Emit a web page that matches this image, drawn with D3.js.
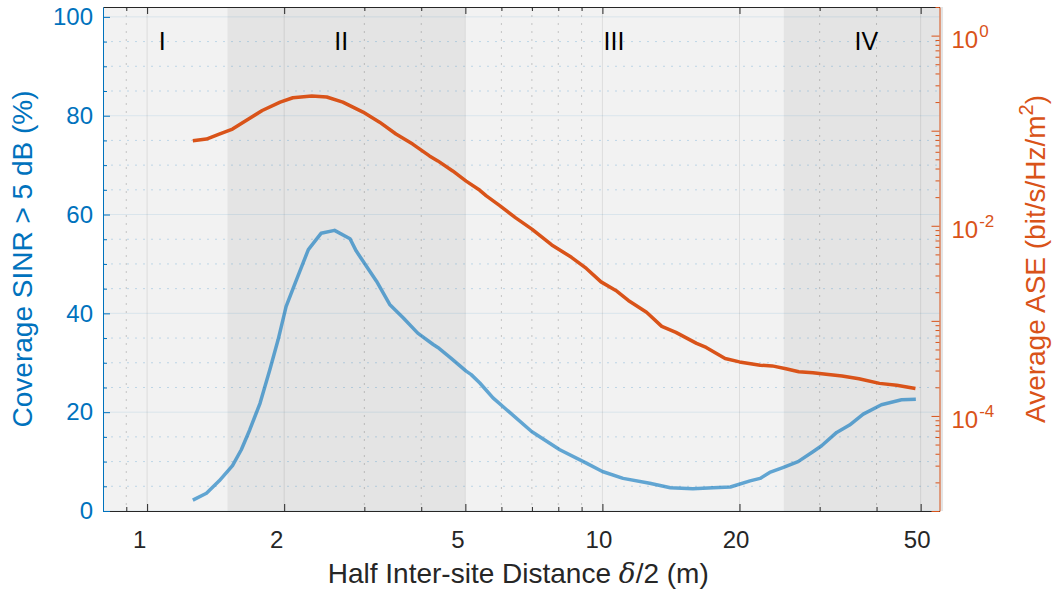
<!DOCTYPE html>
<html lang="en"><head><meta charset="utf-8">
<title>Coverage and ASE</title>
<script src="https://cdn.jsdelivr.net/npm/d3@7"></script>
<style>
body { margin: 0; background: #fff; }
text { font-family: "Liberation Sans", Arial, Helvetica, sans-serif; }
</style>
</head>
<body>
<script>
// data
var covDist = [1.26, 1.35, 1.44, 1.54, 1.61, 1.68, 1.77, 1.86, 1.94, 2.02, 2.13, 2.26, 2.41, 2.58, 2.79, 2.88,
               3.19, 3.41, 3.65, 3.93, 4.25, 4.35, 4.64, 5.02, 5.15, 5.38, 5.75, 6.16, 6.99, 8.06, 9.22, 10.0,
               11.1, 12.7, 14.1, 15.8, 17.5, 19.1, 21.1, 22.2, 23.3, 24.9, 26.9, 29.0, 30.3, 32.7, 34.9, 37.4,
               41.0, 45.4, 48.8];
var coverage = [2.2, 3.6, 6.1, 9.2, 12.4, 16.4, 21.8, 28.6, 34.7, 41.4, 46.9, 52.9, 56.2, 56.8, 55.1, 52.6,
                46.5, 41.8, 39.1, 36.0, 33.7, 33.1, 31.0, 28.3, 27.6, 25.9, 22.9, 20.5, 16.1, 12.4, 9.7, 8.0,
                6.6, 5.6, 4.7, 4.5, 4.7, 4.85, 6.1, 6.6, 7.8, 8.8, 10.0, 12.0, 13.2, 15.9, 17.4, 19.6,
                21.5, 22.5, 22.6];

var aseDist = [1.26, 1.35, 1.44, 1.54, 1.65, 1.79, 1.96, 2.09, 2.30, 2.48, 2.69, 2.98, 3.24, 3.52, 3.83, 4.17,
               4.35, 4.69, 5.02, 5.38, 5.56, 5.95, 6.45, 7.0, 7.74, 8.55, 9.22, 9.93, 10.7, 11.4, 12.5, 13.5,
               14.5, 16.1, 16.9, 18.6, 20.0, 22.2, 23.6, 25.3, 27.0, 29.0, 31.0, 33.6, 36.6, 40.6, 44.3, 48.7];
var ase = [0.0784, 0.0817, 0.0923, 0.104, 0.128, 0.163, 0.200, 0.222, 0.232, 0.226, 0.200, 0.157, 0.123, 0.0923, 0.0723, 0.0543,
           0.0481, 0.0377, 0.0295, 0.0236, 0.0206, 0.0163, 0.0121, 0.00923, 0.00629, 0.00466, 0.00356, 0.00257, 0.00209, 0.00164, 0.00123, 0.000875,
           0.000757, 0.000579, 0.000525, 0.000402, 0.00037, 0.000341, 0.000336, 0.000314, 0.000292, 0.000285, 0.000274, 0.000263, 0.000246, 0.00022, 0.00021, 0.000194];

var regionEdges = [0.8, 1.5, 5, 25, 56];
var regionNames = ["I", "II", "III", "IV"];
var regionLabelX = [1.08, 2.67, 10.6, 38];
var regionShade = ["#f2f2f2", "#e4e4e4", "#f2f2f2", "#e4e4e4"];

var xTicks = [1, 2, 5, 10, 20, 50];
var xMinor = [0.9, 3, 4, 6, 7, 8, 9, 30, 40];
var leftTicks = [0, 20, 40, 60, 80, 100];
var rightDecades = [1e-5, 1e-4, 1e-3, 1e-2, 1e-1, 1];
var rightLabelled = [[1e-4, "-4"], [1e-2, "-2"], [1, "0"]];

var width = 1053, height = 594;
var pL = 103, pR = 939.5, pT = 7, pB = 511;
var blue = "#0072BD", orange = "#D95319", axisGray = "#262626";

var x = d3.scaleLog().domain([0.8, 55]).range([pL, pR]);
var yL = d3.scaleLinear().domain([0, 102]).range([pB, pT]);
var yR = d3.scaleLog().domain([1e-5, 2]).range([pB, pT]);

var svg = d3.select("body").append("svg")
  .attr("width", width)
  .attr("height", height);

svg.append("defs").append("clipPath").attr("id", "plotclip")
  .append("rect").attr("x", pL).attr("y", pT)
  .attr("width", pR - pL).attr("height", pB - pT);

// shaded regions
svg.selectAll(".region")
  .data(regionNames)
  .enter().append("rect")
  .attr("class", "region")
  .attr("x", function(d, i) { return x(regionEdges[i]); })
  .attr("width", function(d, i) { return x(regionEdges[i + 1]) - x(regionEdges[i]); })
  .attr("y", pT)
  .attr("height", pB - pT)
  .attr("fill", function(d, i) { return regionShade[i]; });

// grid
var grid = svg.append("g");
var yMinor = d3.range(5, 101, 5).filter(function(v) { return v % 20 != 0; });
grid.selectAll(".hminor").data(yMinor).enter().append("line")
  .attr("x1", pL).attr("x2", pR)
  .attr("y1", function(d) { return yL(d); }).attr("y2", function(d) { return yL(d); })
  .attr("stroke", "rgba(0,114,189,0.22)").attr("stroke-dasharray", "2,6");
grid.selectAll(".hmajor").data(leftTicks).enter().append("line")
  .attr("x1", pL).attr("x2", pR)
  .attr("y1", function(d) { return yL(d); }).attr("y2", function(d) { return yL(d); })
  .attr("stroke", "rgba(0,114,189,0.1)");
grid.selectAll(".vminor").data(xMinor).enter().append("line")
  .attr("x1", function(d) { return x(d); }).attr("x2", function(d) { return x(d); })
  .attr("y1", pT).attr("y2", pB)
  .attr("stroke", "rgba(38,38,38,0.22)").attr("stroke-dasharray", "2,6");
grid.selectAll(".vmajor").data(xTicks).enter().append("line")
  .attr("x1", function(d) { return x(d); }).attr("x2", function(d) { return x(d); })
  .attr("y1", pT).attr("y2", pB)
  .attr("stroke", "rgba(38,38,38,0.1)");

// region labels
svg.selectAll(".rlabel")
  .data(regionNames)
  .enter().append("text")
  .attr("x", function(d, i) { return x(regionLabelX[i]); })
  .attr("y", yL(93.2))
  .attr("text-anchor", "middle")
  .attr("font-size", 25)
  .attr("fill", "#000")
  .text(function(d) { return d; });

// curves
var plot = svg.append("g").attr("clip-path", "url(#plotclip)");

var covLine = d3.line()
  .x(function(d, i) { return x(covDist[i]); })
  .y(function(d) { return yL(d); });
plot.append("path")
  .datum(coverage)
  .attr("d", covLine)
  .attr("fill", "none")
  .attr("stroke", blue)
  .attr("stroke-opacity", 0.6)
  .attr("stroke-width", 3.5)
  .attr("stroke-linejoin", "round");

var aseLine = d3.line()
  .x(function(d, i) { return x(aseDist[i]); })
  .y(function(d) { return yR(d); });
plot.append("path")
  .datum(ase)
  .attr("d", aseLine)
  .attr("fill", "none")
  .attr("stroke", orange)
  .attr("stroke-width", 3.5)
  .attr("stroke-linejoin", "round");

// x axes (bottom and top)
var xAxis = svg.append("g")
  .attr("transform", "translate(0," + pB + ")")
  .attr("color", axisGray)
  .call(d3.axisBottom(x).tickValues(xTicks).tickSize(-7).tickSizeOuter(0).tickPadding(20)
        .tickFormat(d3.format("d")));
xAxis.selectAll("text")
  .attr("font-size", 24)
  .attr("font-family", "Liberation Sans, Arial, sans-serif")
  .attr("fill", "#262626")
  .attr("dx", function(d) { return d < 10 ? -8 : -4; });
svg.append("g")
  .attr("transform", "translate(0," + pB + ")")
  .attr("color", axisGray)
  .call(d3.axisBottom(x).tickValues(xMinor).tickSize(-4).tickSizeOuter(0).tickFormat(""))
  .select(".domain").remove();
svg.append("g")
  .attr("transform", "translate(0," + pT + ")")
  .attr("color", axisGray)
  .call(d3.axisTop(x).tickValues(xTicks).tickSize(-7).tickSizeOuter(0).tickFormat(""));
svg.append("g")
  .attr("transform", "translate(0," + pT + ")")
  .attr("color", axisGray)
  .call(d3.axisTop(x).tickValues(xMinor).tickSize(-4).tickSizeOuter(0).tickFormat(""))
  .select(".domain").remove();

// left axis
var lAxis = svg.append("g")
  .attr("transform", "translate(" + pL + ",0)")
  .attr("color", blue)
  .call(d3.axisLeft(yL).tickValues(leftTicks).tickSize(-7).tickSizeOuter(0).tickPadding(10));
lAxis.selectAll("text").attr("font-size", 24).attr("font-family", "Liberation Sans, Arial, sans-serif");
svg.append("g")
  .attr("transform", "translate(" + pL + ",0)")
  .attr("color", blue)
  .call(d3.axisLeft(yL).tickValues(yMinor).tickSize(-4).tickSizeOuter(0).tickFormat(""))
  .select(".domain").remove();

// right axis
var rMinor = [];
rightDecades.forEach(function(dec) {
  for (var k = 2; k <= 9; k++) { if (dec * k <= 2) rMinor.push(dec * k); }
});
svg.append("g")
  .attr("transform", "translate(" + pR + ",0)")
  .attr("color", orange)
  .call(d3.axisRight(yR).tickValues(rightDecades).tickSize(-8).tickSizeOuter(0).tickFormat(""));
svg.append("g")
  .attr("transform", "translate(" + pR + ",0)")
  .attr("color", orange)
  .call(d3.axisRight(yR).tickValues(rMinor).tickSize(-4).tickSizeOuter(0).tickFormat(""))
  .select(".domain").remove();

var rLab = svg.selectAll(".rtick")
  .data(rightLabelled)
  .enter().append("text")
  .attr("x", pR + 12)
  .attr("y", function(d) { return yR(d[0]) + 12.5; })
  .attr("fill", orange)
  .attr("font-size", 24);
rLab.append("tspan").text("10");
rLab.append("tspan").attr("font-size", 17).attr("dy", -11).attr("dx", 1).text(function(d) { return d[1]; });

// axis labels
svg.append("text")
  .attr("transform", "translate(" + ((pL + pR) / 2 - 3) + ",583)")
  .attr("text-anchor", "middle")
  .attr("font-size", 28)
  .attr("fill", "#262626")
  .call(function(t) {
    t.append("tspan").text("Half Inter-site Distance ");
    t.append("tspan").attr("font-family", "DejaVu Serif, serif").attr("font-style", "italic").text("δ");
    t.append("tspan").text("/2 (m)");
  });

svg.append("text")
  .attr("transform", "translate(32," + ((pT + pB) / 2) + ") rotate(-90)")
  .attr("text-anchor", "middle")
  .attr("font-size", 28)
  .attr("fill", blue)
  .text("Coverage SINR > 5 dB (%)");

svg.append("text")
  .attr("transform", "translate(1045," + ((pT + pB) / 2) + ") rotate(-90)")
  .attr("text-anchor", "middle")
  .attr("font-size", 28)
  .attr("fill", orange)
  .call(function(t) {
    t.append("tspan").text("Average ASE (bit/s/Hz/m");
    t.append("tspan").attr("font-size", 20).attr("dy", -12).text("2");
    t.append("tspan").attr("dy", 12).text(")");
  });
</script>
</body></html>
